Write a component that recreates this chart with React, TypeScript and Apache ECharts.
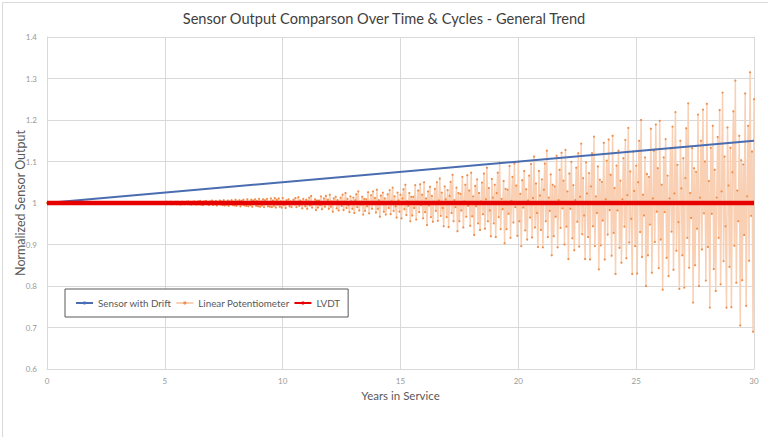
import React, { useEffect, useRef } from "react";
import * as echarts from "echarts";

const titleText = "Sensor Output Comparson Over Time & Cycles - General Trend";
const xAxisName = "Years in Service";
const yAxisName = "Normalized Sensor Output";
const seriesNames = ["Sensor with Drift", "Linear Potentiometer", "LVDT"];

const xMin = 0;
const xMax = 30;
const xInterval = 5;
const yMin = 0.6;
const yMax = 1.4;
const yInterval = 0.1;

// Sensor with Drift: [year, value]
const driftPoints: [number, number][] = [
  [0, 1.0],
  [30, 1.15],
];

// LVDT: [year, value]
const lvdtPoints: [number, number][] = [
  [0, 1.0],
  [30, 1.0],
];

// Linear Potentiometer readings, 24 samples per year (one row = half a year)
const potSamplesPerYear = 24;
const potYears00to05 = [
  1, 1.001, 0.999, 1.002, 0.998, 1.001, 1, 0.999, 1.002, 0.999, 1.001, 0.998,
  1.001, 0.999, 1.002, 1, 0.998, 1.001, 0.999, 1.002, 0.998, 1.001, 1, 0.999,
  1.002, 0.998, 1.001, 0.999, 1, 1.002, 0.998, 1.001, 0.999, 1.001, 0.998, 1.002,
  0.999, 1.001, 1, 0.998, 1.002, 0.999, 1.001, 0.998, 1.002, 1, 0.999, 1.001,
  0.998, 1.002, 0.999, 1.001, 1, 0.998, 1.002, 0.999, 1.001, 0.998, 1.002, 1,
  1.001, 0.998, 1, 1.002, 0.999, 1.001, 0.998, 1.002, 1, 0.999, 1.001, 0.999,
  1.002, 0.999, 1.001, 0.998, 1, 1.001, 0.999, 1.002, 0.998, 1.001, 1, 0.998,
  0.999, 1.002, 0.998, 1.001, 0.999, 1, 1.002, 0.998, 1.001, 0.999, 1.002, 1,
  1.001, 0.999, 1.002, 0.998, 1.001, 1, 0.999, 1.002, 0.998, 1.001, 0.999, 1.002,
  0.998, 1.001, 1, 0.999, 1.002, 0.998, 1.001, 0.999, 1.002, 1, 0.998, 1.001,
];
const potYears05to10 = [
  1.002, 0.997, 1.003, 0.999, 1.001, 0.998, 1.003, 0.997, 1.002, 1, 0.998, 1.003,
  0.997, 1.003, 0.999, 1.002, 0.996, 1.001, 1.003, 0.998, 0.997, 1.002, 1.003, 0.999,
  1.004, 0.997, 1.001, 0.996, 1.003, 0.999, 1.004, 0.998, 0.996, 1.002, 1.004, 0.997,
  1.005, 0.996, 1.002, 0.995, 1.004, 0.998, 1.005, 0.997, 1.001, 0.995, 1.004, 0.999,
  1.006, 0.995, 1.003, 0.997, 1.005, 0.994, 1.002, 0.999, 1.006, 0.996, 1.004, 0.995,
  1.007, 0.994, 1.002, 0.996, 1.006, 0.993, 1.004, 0.998, 1.007, 0.995, 1.003, 0.994,
  1.008, 0.993, 1.004, 0.997, 1.007, 0.992, 1.005, 0.996, 1.008, 0.994, 1.002, 0.993,
  1.009, 0.992, 1.003, 0.995, 1.008, 0.991, 1.006, 0.998, 1.009, 0.993, 1.005, 0.992,
  1.01, 0.991, 1.004, 0.994, 1.009, 0.99, 1.007, 0.997, 1.01, 0.992, 1.003, 0.991,
  1.011, 0.99, 1.006, 0.993, 1.012, 0.989, 1.008, 0.996, 1.011, 0.991, 1.004, 0.989,
];
const potYears10to15 = [
  1.012, 0.995, 1.003, 0.988, 1.007, 0.999, 1.009, 0.992, 1.004, 0.99, 1.001, 1.008,
  0.996, 1.012, 0.99, 1.002, 1.014, 0.993, 1.006, 0.997, 0.987, 1.01, 1.002, 0.992,
  1.008, 0.986, 1.004, 1.013, 0.994, 1.017, 0.989, 1.002, 0.997, 1.009, 0.983, 1.006,
  0.989, 1.006, 0.995, 1.016, 0.985, 1.001, 1.011, 0.991, 1.017, 0.998, 1.008, 0.986,
  1.02, 0.991, 1.004, 0.979, 1.011, 0.998, 1.015, 0.987, 1.007, 0.982, 1.001, 1.013,
  0.993, 1.02, 0.983, 1.003, 1.024, 0.988, 1.01, 0.995, 0.978, 1.016, 1.004, 0.986,
  1.013, 0.976, 1.007, 1.021, 0.99, 1.028, 0.982, 1.003, 0.996, 1.015, 0.972, 1.01,
  0.981, 1.009, 0.992, 1.026, 0.975, 1.002, 1.019, 0.986, 1.028, 0.997, 1.012, 0.977,
  1.032, 0.986, 1.007, 0.967, 1.018, 0.997, 1.025, 0.979, 1.011, 0.972, 1.002, 1.021,
  0.988, 1.031, 0.973, 1.004, 1.037, 0.981, 1.016, 0.992, 0.965, 1.025, 1.006, 0.979,
];
const potYears15to20 = [
  1.02, 0.963, 1.011, 1.033, 0.985, 1.044, 0.971, 1.004, 0.993, 1.024, 0.956, 1.015,
  0.97, 1.015, 0.988, 1.043, 0.96, 1.003, 1.03, 0.978, 1.045, 0.995, 1.02, 0.963,
  1.05, 0.978, 1.011, 0.947, 1.028, 0.994, 1.039, 0.966, 1.017, 0.955, 1.003, 1.034,
  0.981, 1.05, 0.957, 1.006, 1.059, 0.969, 1.025, 0.988, 0.944, 1.04, 1.009, 0.966,
  1.031, 0.942, 1.017, 1.051, 0.976, 1.068, 0.956, 1.007, 0.99, 1.037, 0.932, 1.024,
  0.956, 1.022, 0.982, 1.063, 0.941, 1.004, 1.044, 0.967, 1.067, 0.993, 1.03, 0.945,
  1.073, 0.968, 1.016, 0.923, 1.041, 0.992, 1.057, 0.951, 1.024, 0.935, 1.004, 1.049,
  0.973, 1.071, 0.938, 1.009, 1.085, 0.956, 1.036, 0.982, 0.92, 1.058, 1.013, 0.951,
  1.044, 0.918, 1.024, 1.073, 0.966, 1.097, 0.937, 1.01, 0.985, 1.053, 0.903, 1.034,
  0.937, 1.032, 0.974, 1.089, 0.916, 1.005, 1.063, 0.953, 1.095, 0.99, 1.042, 0.921,
];
const potYears20to25 = [
  1.099, 0.956, 1.022, 0.896, 1.055, 0.989, 1.077, 0.934, 1.033, 0.912, 1.006, 1.066,
  0.965, 1.094, 0.917, 1.012, 1.112, 0.941, 1.047, 0.976, 0.894, 1.077, 1.018, 0.935,
  1.057, 0.893, 1.032, 1.095, 0.956, 1.126, 0.918, 1.013, 0.981, 1.069, 0.874, 1.044,
  0.92, 1.04, 0.967, 1.114, 0.893, 1.007, 1.08, 0.94, 1.121, 0.987, 1.054, 0.9,
  1.128, 0.943, 1.028, 0.865, 1.071, 0.986, 1.099, 0.915, 1.043, 0.886, 1.007, 1.085,
  0.955, 1.12, 0.895, 1.015, 1.143, 0.925, 1.06, 0.97, 0.865, 1.098, 1.023, 0.918,
  1.072, 0.864, 1.04, 1.12, 0.944, 1.16, 0.896, 1.016, 0.976, 1.088, 0.84, 1.056,
  0.898, 1.051, 0.958, 1.145, 0.864, 1.009, 1.102, 0.924, 1.153, 0.983, 1.068, 0.873,
  1.162, 0.928, 1.036, 0.829, 1.09, 0.982, 1.126, 0.892, 1.054, 0.856, 1.009, 1.108,
  0.943, 1.152, 0.867, 1.019, 1.181, 0.905, 1.076, 0.962, 0.829, 1.124, 1.029, 0.896,
];
const potYears25to30 = [
  1.09, 0.83, 1.05, 1.15, 0.93, 1.2, 0.87, 1.02, 0.97, 1.11, 0.8, 1.07,
  0.874, 1.063, 0.948, 1.179, 0.832, 1.011, 1.126, 0.906, 1.189, 0.979, 1.084, 0.843,
  1.198, 0.912, 1.044, 0.791, 1.11, 0.978, 1.154, 0.868, 1.066, 0.824, 1.011, 1.132,
  0.931, 1.184, 0.839, 1.023, 1.219, 0.885, 1.092, 0.954, 0.793, 1.15, 1.035, 0.874,
  1.108, 0.796, 1.06, 1.18, 0.916, 1.24, 0.844, 1.024, 0.964, 1.132, 0.76, 1.084,
  0.85, 1.075, 0.938, 1.213, 0.8, 1.013, 1.15, 0.888, 1.225, 0.975, 1.1, 0.813,
  1.239, 0.894, 1.053, 0.748, 1.133, 0.974, 1.186, 0.841, 1.08, 0.788, 1.013, 1.159,
  0.916, 1.224, 0.804, 1.028, 1.266, 0.86, 1.112, 0.944, 0.748, 1.182, 1.042, 0.846,
  1.133, 0.749, 1.074, 1.221, 0.897, 1.295, 0.808, 1.03, 0.956, 1.162, 0.705, 1.103,
  0.814, 1.093, 0.923, 1.264, 0.752, 1.016, 1.186, 0.861, 1.315, 0.969, 1.124, 0.69,
  1.25,
];

const FONT = "Lato, 'Noto Sans', sans-serif";

export default function App() {
  const ref = useRef<HTMLDivElement>(null);

  useEffect(() => {
    if (!ref.current) return;
    const chart = echarts.init(ref.current, undefined, { renderer: "svg" });

    const potValues = [
      ...potYears00to05,
      ...potYears05to10,
      ...potYears10to15,
      ...potYears15to20,
      ...potYears20to25,
      ...potYears25to30,
    ];
    const potPoints = potValues.map((v, i) => [i / potSamplesPerYear, v]);

    chart.setOption({
      animation: false,
      backgroundColor: "#ffffff",
      textStyle: { fontFamily: FONT },
      title: {
        text: titleText,
        left: "center",
        top: 6,
        textStyle: { fontSize: 14.6, fontWeight: "normal", color: "#404040", fontFamily: FONT },
      },
      legend: {
        data: seriesNames,
        left: 65,
        top: 289,
        orient: "horizontal",
        padding: [9, 8, 9, 10],
        itemGap: 4,
        itemWidth: 17,
        itemHeight: 4,
        borderColor: "#595959",
        borderWidth: 1,
        backgroundColor: "#ffffff",
        textStyle: { fontSize: 9.8, color: "#595959", fontFamily: FONT },
      },
      grid: {
        left: 47,
        right: 14,
        top: 37,
        bottom: 68,
        containLabel: false,
        outerBoundsMode: "none",
      },
      xAxis: {
        type: "value",
        min: xMin,
        max: xMax,
        interval: xInterval,
        name: xAxisName,
        nameLocation: "middle",
        nameGap: 20,
        nameMoveOverlap: false,
        nameTextStyle: { fontSize: 11.5, color: "#595959", fontFamily: FONT },
        axisLine: { show: true, lineStyle: { color: "#D9D9D9" } },
        axisTick: { show: false },
        axisLabel: { fontSize: 8, color: "#999999", margin: 8, fontFamily: FONT },
        splitLine: { show: true, lineStyle: { color: "#D9D9D9", width: 1 } },
      },
      yAxis: {
        type: "value",
        min: yMin,
        max: yMax,
        interval: yInterval,
        name: yAxisName,
        nameLocation: "middle",
        nameGap: 20,
        nameMoveOverlap: false,
        nameTextStyle: { fontSize: 12.5, color: "#595959", fontFamily: FONT },
        axisLine: { show: true, lineStyle: { color: "#D9D9D9" } },
        axisTick: { show: false },
        axisLabel: {
          fontSize: 8,
          color: "#999999",
          margin: 10,
          fontFamily: FONT,
          formatter: (v: number) => String(Math.round(v * 10) / 10),
        },
        splitLine: { show: true, lineStyle: { color: "#D9D9D9", width: 1 } },
      },
      series: [
        {
          name: seriesNames[1],
          type: "line",
          data: potPoints,
          showSymbol: true,
          showAllSymbol: true,
          symbol: "circle",
          symbolSize: 2.2,
          itemStyle: { color: "#EE8F4E" },
          lineStyle: { color: "#F9D0B4", width: 1.5 },
          z: 2,
        },
        {
          name: seriesNames[0],
          type: "line",
          data: driftPoints,
          showSymbol: false,
          symbol: "circle",
          symbolSize: 2,
          itemStyle: { color: "#4472C4" },
          lineStyle: { color: "#4A6DB0", width: 2 },
          z: 3,
        },
        {
          name: seriesNames[2],
          type: "line",
          data: lvdtPoints,
          showSymbol: false,
          symbol: "none",
          itemStyle: { color: "#E60000" },
          lineStyle: { color: "#E60000", width: 4.5 },
          z: 4,
        },
      ],
      graphic: [
        {
          type: "rect",
          left: 0,
          top: 0,
          shape: { x: 0.5, y: 0.5, width: 767, height: 436 },
          style: { fill: "none", stroke: "#D9D9D9", lineWidth: 1 },
          silent: true,
          z: 100,
        },
      ],
    });

    return () => {
      chart.dispose();
    };
  }, []);

  return (
    <div
      ref={ref}
      style={{ position: "fixed", left: 0, top: 0, width: 768, height: 437 }}
    />
  );
}
